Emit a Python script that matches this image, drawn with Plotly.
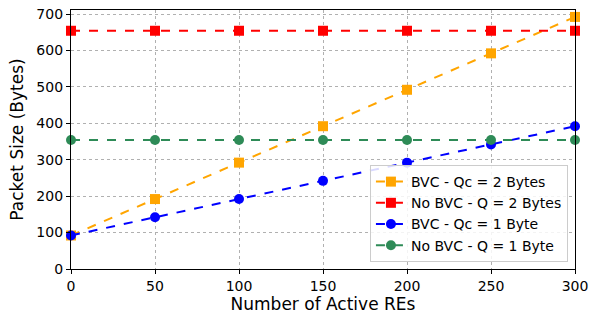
import plotly.graph_objects as go

x_vals = [0, 50, 100, 150, 200, 250, 300]
bvc_qc2 = [92, 192, 292, 392, 492, 592, 692]
nobvc_q2 = [654, 654, 654, 654, 654, 654, 654]
bvc_qc1 = [92, 142, 192, 242, 292, 342, 392]
nobvc_q1 = [354, 354, 354, 354, 354, 354, 354]

names = ["BVC - Qc = 2 Bytes", "No BVC - Q = 2 Bytes", "BVC - Qc = 1 Byte", "No BVC - Q = 1 Byte"]
series = [bvc_qc2, nobvc_q2, bvc_qc1, nobvc_q1]
colors = ["#FFA500", "#FF0000", "#0000FF", "#2E8B57"]
symbols = ["square", "square", "circle", "circle"]

fig = go.Figure()
for n, s, c, m in zip(names, series, colors, symbols):
    fig.add_trace(go.Scatter(
        x=x_vals, y=s, name=n, mode="lines+markers",
        line=dict(color=c, width=2, dash="dash"),
        marker=dict(symbol=m, size=10, color=c),
        cliponaxis=False,
    ))

axis_common = dict(
    showline=True, linecolor="black", linewidth=1.2, mirror=True,
    ticks="outside", ticklen=4, tickcolor="black",
    showgrid=True, gridcolor="#b0b0b0", griddash="dot", gridwidth=1,
    zeroline=False, automargin=False,
    tickfont=dict(family="DejaVu Sans", size=14, color="black"),
)

fig.update_layout(
    width=602, height=320,
    margin=dict(l=71, r=27, t=10, b=51),
    paper_bgcolor="white", plot_bgcolor="white",
    font=dict(family="DejaVu Sans", color="black"),
    xaxis=dict(range=[0, 300], tickvals=x_vals,
               title=dict(text="Number of Active REs", font=dict(size=17), standoff=4),
               **axis_common),
    yaxis=dict(range=[0, 711], tickvals=[0, 100, 200, 300, 400, 500, 600, 700],
               title=dict(text="Packet Size (Bytes)", font=dict(size=17), standoff=8),
               **axis_common),
    legend=dict(x=0.986, y=0.027, xanchor="right", yanchor="bottom",
                bgcolor="rgba(255,255,255,0.85)", bordercolor="#cccccc", borderwidth=1,
                font=dict(size=14, family="DejaVu Sans"), itemwidth=30,
                tracegroupgap=0),
    showlegend=True,
)

fig.write_html("out.html", config={"displayModeBar": False},
               post_script="document.body.style.margin='0';")
